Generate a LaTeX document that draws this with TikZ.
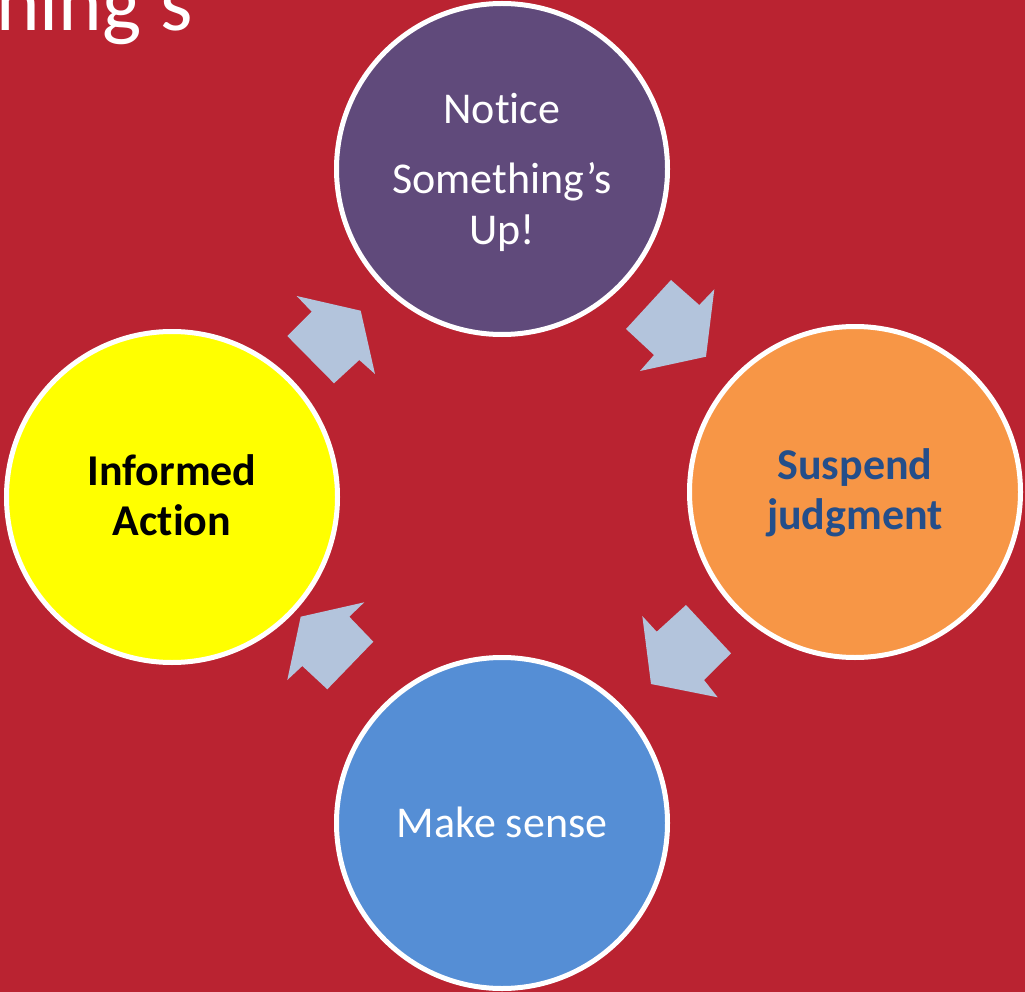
\documentclass[tikz,border=0pt]{standalone}
\usepackage{fontspec}
\setmainfont{Carlito}[Ligatures=NoCommon, RawFeature={-liga;-clig;-calt;-dlig}]
\definecolor{bgred}{RGB}{186,35,49}
\definecolor{cpurple}{RGB}{96,74,123}
\definecolor{corange}{RGB}{247,150,70}
\definecolor{cblue}{RGB}{85,142,213}
\definecolor{cyellow}{RGB}{255,255,0}
\definecolor{arrowc}{RGB}{179,196,220}
\definecolor{tblue}{RGB}{36,78,138}
\begin{document}
\begin{tikzpicture}[x=1pt,y=-1pt,
  disc/.style={circle, draw=white, line width=5pt, minimum size=331pt, inner sep=0pt},
  lbl/.style={anchor=base, inner sep=0pt, font=\fontsize{44}{52}\selectfont},
  blbl/.style={anchor=base, inner sep=0pt, font=\fontsize{44}{52}\selectfont\bfseries},
  cyc/.style={fill=arrowc, draw=none}]
\fill[bgred] (0,0) rectangle (1025,992);
\useasboundingbox (0,0) rectangle (1025,992);
\begin{scope}
\clip (0,0) rectangle (1025,992);
\node[anchor=base west, inner sep=0pt, text=white, font=\fontsize{83}{96}\selectfont] (title) at (-4,31) {ning’s};
% circles
\node[disc, fill=cpurple] (notice) at (502,169) {};
\node[disc, fill=corange] (suspend) at (855,492) {};
\node[disc, fill=cblue] (sense) at (502,823) {};
\node[disc, fill=cyellow] (action) at (172,497) {};
% labels
\node[lbl, text=white] (t1) at (502,124) {Not\kern0pt{}ice};
\node[lbl, text=white] (t2) at (502,194) {Something’s};
\node[lbl, text=white] (t3) at (502,245) {Up!};
\node[blbl, text=tblue] (t4) at (855,479) {Suspend};
\node[blbl, text=tblue] (t5) at (855,529) {judgment};
\node[lbl, text=white] (t6) at (502,837) {Make sense};
\node[blbl, text=black] (t7) at (172,485) {Informed};
\node[blbl, text=black] (t8) at (172,535) {Act\kern0pt{}ion};
% arrows
\fill[cyc] (296.7,296) -- (311.7,311.7) -- (287.3,336) -- (334,383.3) -- (359.3,360) -- (375,374) -- (360.7,310.7) -- cycle;
\fill[cyc] (714.3,289.3) -- (699.3,305) -- (671,280) -- (626,329) -- (654,355) -- (640,371) -- (706,356.7) -- cycle;
\fill[cyc] (717.7,697.3) -- (704,680) -- (731,653.3) -- (686,605) -- (656.7,631.7) -- (642.3,616) -- (651,684) -- cycle;
\fill[cyc] (287.3,680) -- (302.3,666) -- (327.3,689.3) -- (373.3,641.7) -- (349.3,616.7) -- (364.3,602.3) -- (300.7,616.7) -- cycle;
\end{scope}
\end{tikzpicture}
\end{document}
